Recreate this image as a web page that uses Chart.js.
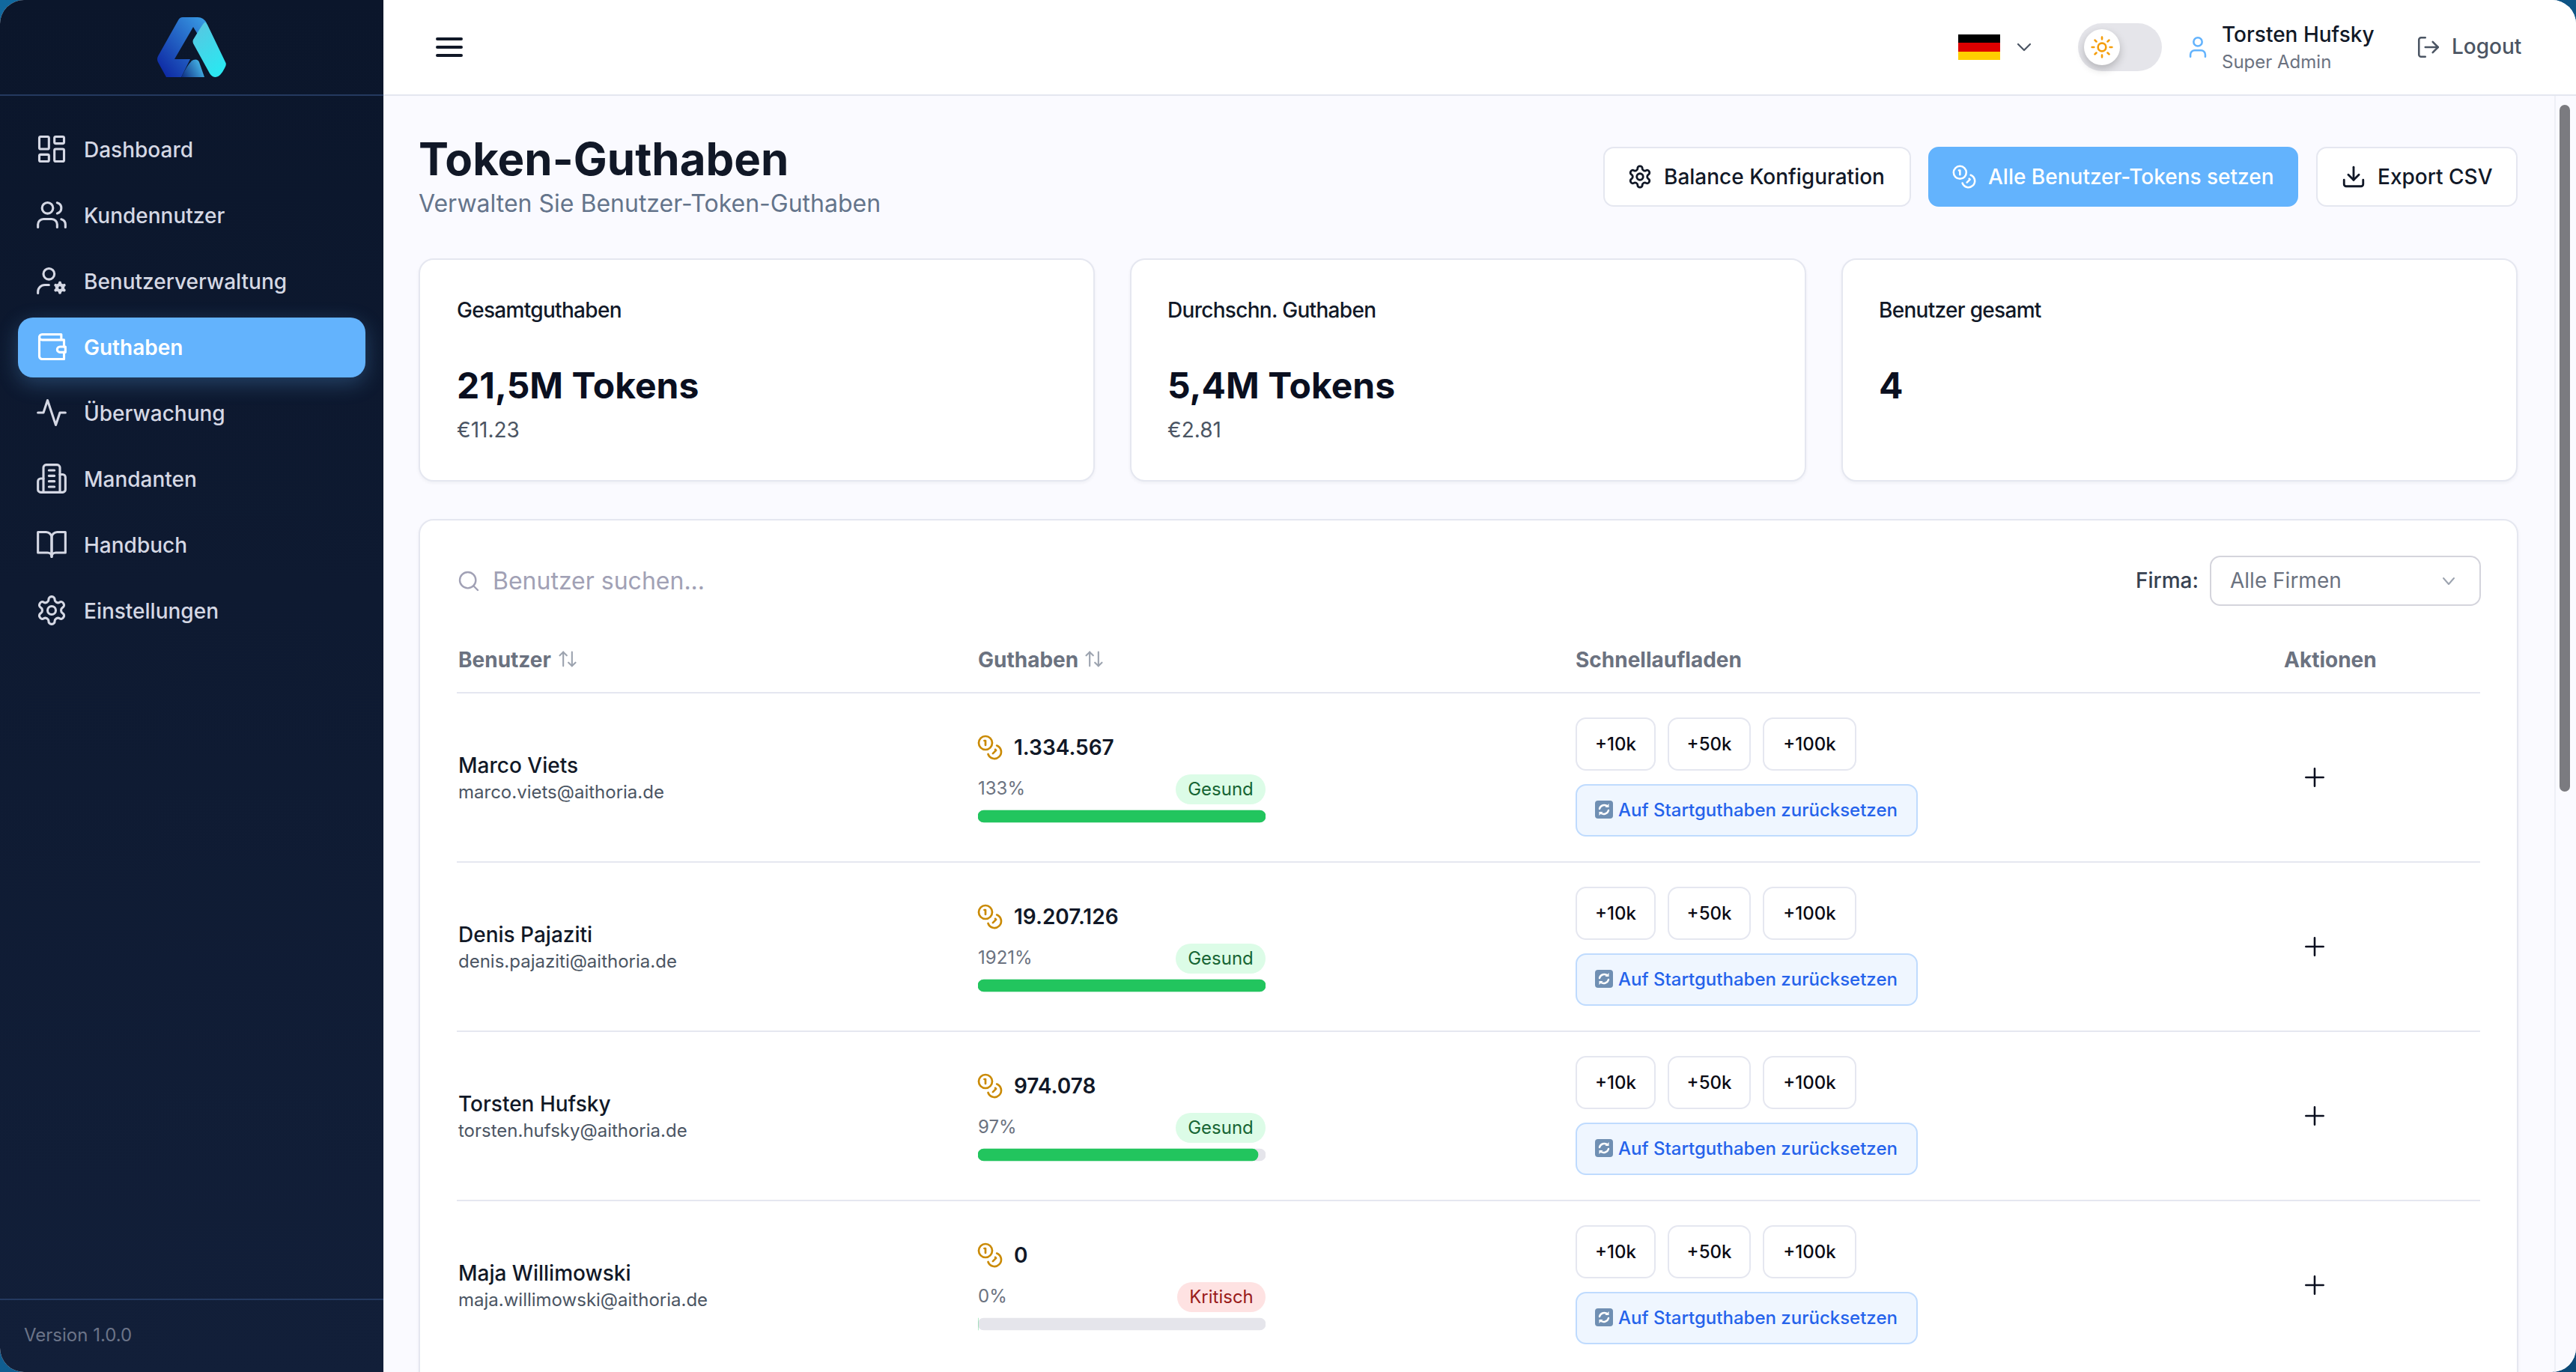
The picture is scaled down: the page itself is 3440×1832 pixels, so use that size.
<!DOCTYPE html>
<html lang="de">
<head>
<meta charset="utf-8">
<title>Token-Guthaben</title>
<script src="https://cdn.jsdelivr.net/npm/chart.js@4"></script>
<style>
  * { box-sizing: border-box; margin: 0; padding: 0; }
  html, body { width: 3440px; height: 1832px; overflow: hidden; }
  body { background: linear-gradient(135deg, #11689e 0%, #0d4a78 100%); font-family: Inter, "Noto Sans", sans-serif; color: #111827; }
  #app { position: absolute; inset: 0; background: #fafaff; border-radius: 32px; overflow: hidden; }
  .abs { position: absolute; }
  .t { position: absolute; white-space: nowrap; transform: translateY(-50%); line-height: 1.2; }
  svg { position: absolute; fill: none; stroke: currentColor; stroke-linecap: round; stroke-linejoin: round; }

  #sidebar { position: absolute; left: 0; top: 0; width: 512px; height: 1832px; background: linear-gradient(#0b162b, #121f39); }
  .rule { position: absolute; left: 0; width: 512px; height: 2px; background: #24395f; }
  #active { position: absolute; left: 24px; top: 424px; width: 464px; height: 80px; border-radius: 20px; background: #63b3fd; box-shadow: 0 8px 28px rgba(99,179,253,.28); }

  #header { position: absolute; left: 512px; top: 0; right: 0; height: 128px; background: #fff; border-bottom: 2px solid #e4e7f0; }
  #scroll { position: absolute; left: 3411px; top: 128px; width: 29px; bottom: 0; background: #fafaff; border-left: 2px solid #eeeff6; }
  #thumb { position: absolute; left: 3418px; top: 140px; width: 14px; height: 917px; border-radius: 7px; background: #7b7b80; }

  .btn { position: absolute; top: 196px; height: 80px; border-radius: 14px; background: #fff; border: 2px solid #e5e7f0; }
  .card { position: absolute; background: #fff; border: 2px solid #e5e7f0; border-radius: 20px; box-shadow: 0 2px 4px rgba(20,30,60,.05); }
  .line { position: absolute; left: 610px; width: 2702px; height: 2px; background: #e5e7f0; }
  .quick { position: absolute; height: 71px; border: 2px solid #e5e7f0; border-radius: 14px; background: #fff; font-size: 24px; font-weight: 500; color: #0a0a14; text-align: center; line-height: 67px; }
  .reset { position: absolute; left: 2104px; width: 457px; height: 70px; background: #eff6ff; border: 2px solid #bfdbfe; border-radius: 14px; }
  .badge { position: absolute; height: 40px; border-radius: 20px; font-size: 24px; line-height: 40px; text-align: center; }
  #bars { position: absolute; left: 1306px; top: 977px; }
</style>
</head>
<body>
<div id="app">
  <div id="sidebar">
    <svg style="left:210px;top:23px;stroke:none" width="92" height="80" viewBox="0 0 92 80">
      <defs>
        <linearGradient id="lgA" x1="0" y1="1" x2="1" y2="0"><stop offset="0" stop-color="#0a1f9e"/><stop offset="1" stop-color="#3a9fe6"/></linearGradient>
        <linearGradient id="lgB" x1="0" y1="1" x2="1" y2="0.6"><stop offset="0" stop-color="#0c2a80"/><stop offset="1" stop-color="#45b4e6"/></linearGradient>
        <linearGradient id="lgC" x1="0" y1="0" x2="0.5" y2="1"><stop offset="0" stop-color="#5bc4e0"/><stop offset="1" stop-color="#2ce6f0"/></linearGradient>
      </defs>
      <path fill="url(#lgA)" d="M34 0H54Q62 0 66 8L56 26L48 13L23 56H44L32 80H12L1 60Q-1 56 1 52L28 4Q30 0 34 0Z"/>
      <path fill="url(#lgB)" d="M32 80Q42 60 48 57Q54 55 56 60L63 80Z"/>
      <path fill="url(#lgC)" d="M63 7Q60 10 48 30Q47 32 48 35L70 75Q73 80 78 80Q84 80 90 68Q93 63 91 60L67 10Q65 6 63 7Z"/>
    </svg>
    <div class="rule" style="top:126px"></div>
    <div class="rule" style="top:1734px"></div>
    <div id="active"></div>
    <div id="nav"></div>
    <div class="t" style="left:32px;top:1783px;font-size:24px;color:#6b7488">Version 1.0.0</div>
  </div>

  <div id="header"></div>
  <svg style="left:582px;top:45px;color:#111827" width="36" height="36" viewBox="0 0 36 36" stroke-width="4"><path d="M2 7H34M2 18H34M2 29H34"/></svg>
  <div class="abs" style="left:2615px;top:46px;width:56px;height:34px;background:linear-gradient(#000 0 33.3%,#dd0000 33.3% 66.6%,#ffce00 66.6%)"></div>
  <svg style="left:2691px;top:51px;color:#4b5563" width="24" height="24" viewBox="0 0 24 24" stroke-width="2.2"><path d="m4 8 8 8 8-8"/></svg>
  <div class="abs" style="left:2775px;top:31px;width:112px;height:64px;border-radius:32px;background:#e5e5ea"></div>
  <div class="abs" style="left:2783px;top:39px;width:48px;height:48px;border-radius:50%;background:#fff;box-shadow:0 5px 12px rgba(0,0,0,.22)"></div>
  <svg style="left:2791px;top:47px;color:#f59e0b" width="32" height="32" viewBox="0 0 24 24" stroke-width="2"><circle cx="12" cy="12" r="4"/><path d="M12 2v2M12 20v2M4.93 4.93l1.41 1.41M17.66 17.66l1.41 1.41M2 12h2M20 12h2M6.34 17.66l-1.41 1.41M19.07 4.93l-1.41 1.41"/></svg>
  <svg style="left:2918px;top:46px;color:#63b3fd" width="34" height="34" viewBox="0 0 24 24" stroke-width="1.8"><path d="M19 21v-2a4 4 0 0 0-4-4H9a4 4 0 0 0-4 4v2"/><circle cx="12" cy="7" r="4"/></svg>
  <div class="t" style="left:2967px;top:47px;font-size:28px;font-weight:500">Torsten Hufsky</div>
  <div class="t" style="left:2967px;top:83px;font-size:24px;color:#6b7280">Super Admin</div>
  <svg style="left:3226px;top:46px;color:#4b5563" width="34" height="34" viewBox="0 0 24 24" stroke-width="1.8"><path d="M9 21H5a2 2 0 0 1-2-2V5a2 2 0 0 1 2-2h4"/><path d="m16 17 5-5-5-5"/><path d="M21 12H9"/></svg>
  <div class="t" style="left:3274px;top:63px;font-size:28px;font-weight:500;color:#4b5563">Logout</div>

  <div id="scroll"></div>
  <div id="thumb"></div>

  <div class="t" style="left:559px;top:212px;font-size:60px;font-weight:700">Token-Guthaben</div>
  <div class="t" style="left:559px;top:272px;font-size:32px;color:#64748b">Verwalten Sie Benutzer-Token-Guthaben</div>

  <div class="btn" style="left:2141px;width:411px"></div>
  <svg style="left:2173px;top:219px;color:#111827" width="34" height="34" viewBox="0 0 24 24" stroke-width="2"><path d="M12.22 2h-.44a2 2 0 0 0-2 2v.18a2 2 0 0 1-1 1.73l-.43.25a2 2 0 0 1-2 0l-.15-.08a2 2 0 0 0-2.73.73l-.22.38a2 2 0 0 0 .73 2.73l.15.1a2 2 0 0 1 1 1.72v.51a2 2 0 0 1-1 1.74l-.15.09a2 2 0 0 0-.73 2.73l.22.38a2 2 0 0 0 2.73.73l.15-.08a2 2 0 0 1 2 0l.43.25a2 2 0 0 1 1 1.73V20a2 2 0 0 0 2 2h.44a2 2 0 0 0 2-2v-.18a2 2 0 0 1 1-1.73l.43-.25a2 2 0 0 1 2 0l.15.08a2 2 0 0 0 2.73-.73l.22-.39a2 2 0 0 0-.73-2.73l-.15-.08a2 2 0 0 1-1-1.74v-.5a2 2 0 0 1 1-1.74l.15-.09a2 2 0 0 0 .73-2.73l-.22-.38a2 2 0 0 0-2.73-.73l-.15.08a2 2 0 0 1-2 0l-.43-.25a2 2 0 0 1-1-1.73V4a2 2 0 0 0-2-2z"/><circle cx="12" cy="12" r="3"/></svg>
  <div class="t" style="left:2222px;top:237px;font-size:28px;font-weight:500">Balance Konfiguration</div>
  <div class="btn" style="left:2575px;width:494px;background:#63b3fd;border-color:#63b3fd"></div>
  <svg style="left:2606px;top:219px;color:#fff" width="34" height="34" viewBox="0 0 24 24" stroke-width="1.8"><circle cx="8" cy="8" r="6"/><path d="M18.09 10.37A6 6 0 1 1 10.34 18"/><path d="M7 6h1v4"/><path d="m16.71 13.88.7.71-2.82 2.82"/></svg>
  <div class="t" style="left:2655px;top:237px;font-size:28px;font-weight:500;color:#fff">Alle Benutzer-Tokens setzen</div>
  <div class="btn" style="left:3093px;width:269px"></div>
  <svg style="left:3126px;top:219px;color:#111827" width="34" height="34" viewBox="0 0 24 24" stroke-width="2"><path d="M21 15v4a2 2 0 0 1-2 2H5a2 2 0 0 1-2-2v-4"/><path d="m7 10 5 5 5-5"/><path d="M12 15V3"/></svg>
  <div class="t" style="left:3175px;top:237px;font-size:28px;font-weight:500">Export CSV</div>

  <div id="cards"></div>

  <div class="card" style="left:559px;top:693px;width:2804px;height:1300px"></div>
  <svg style="left:610px;top:760px;color:#a1a1b5" width="32" height="32" viewBox="0 0 24 24" stroke-width="1.8"><circle cx="11" cy="11" r="8"/><path d="m21 21-4.3-4.3"/></svg>
  <div class="t" style="left:658px;top:776px;font-size:32px;color:#a1a1b5">Benutzer suchen...</div>
  <div class="t" style="left:2852px;top:776px;font-size:28px;font-weight:500;color:#374151">Firma:</div>
  <div class="abs" style="left:2951px;top:742px;width:362px;height:67px;border:2px solid #d4d4dc;border-radius:14px;background:#fff"></div>
  <div class="t" style="left:2978px;top:776px;font-size:28px;color:#6b7280">Alle Firmen</div>
  <svg style="left:3258px;top:764px;color:#9ca3af" width="24" height="24" viewBox="0 0 24 24" stroke-width="2"><path d="m5 8 7 8 7-8"/></svg>

  <div id="heads"></div>
  <div class="line" style="top:924px"></div>
  <div id="rows"></div>
  <canvas id="bars" width="384" height="904"></canvas>
</div>

<script>
const navLabels = ['Dashboard', 'Kundennutzer', 'Benutzerverwaltung', 'Guthaben', 'Überwachung', 'Mandanten', 'Handbuch', 'Einstellungen'];

const cardLabels = ['Gesamtguthaben', 'Durchschn. Guthaben', 'Benutzer gesamt'];
const cardValues = ['21,5M Tokens', '5,4M Tokens', '4'];
const cardSubs = ['€11.23', '€2.81', ''];

const tableHeads = ['Benutzer', 'Guthaben', 'Schnellaufladen', 'Aktionen'];
const users = ['Marco Viets', 'Denis Pajaziti', 'Torsten Hufsky', 'Maja Willimowski'];
const emails = ['marco.viets@aithoria.de', 'denis.pajaziti@aithoria.de', 'torsten.hufsky@aithoria.de', 'maja.willimowski@aithoria.de'];
const balances = ['1.334.567', '19.207.126', '974.078', '0'];
const percentLabels = ['133%', '1921%', '97%', '0%'];
const states = ['Gesund', 'Gesund', 'Gesund', 'Kritisch'];
const quickAmounts = ['+10k', '+50k', '+100k'];

// bar fill in percent of the track, the bars stop at the full track
const barFill = [100, 100, 97.4, 0];
const barTrack = [100, 100, 100, 100];

const navIcons = [
  '<rect x="3" y="3" width="7" height="9" rx="1"/><rect x="14" y="3" width="7" height="5" rx="1"/><rect x="14" y="12" width="7" height="9" rx="1"/><rect x="3" y="16" width="7" height="5" rx="1"/>',
  '<path d="M16 21v-2a4 4 0 0 0-4-4H6a4 4 0 0 0-4 4v2"/><circle cx="9" cy="7" r="4"/><path d="M22 21v-2a4 4 0 0 0-3-3.87"/><path d="M16 3.13a4 4 0 0 1 0 7.75"/>',
  '<circle cx="10" cy="7" r="4"/><path d="M2 21v-1a5 5 0 0 1 5-5h3"/><circle cx="18" cy="17" r="2.200" stroke-width="2.400"/><path d="M18 13.400v.6M18 20v.6M14.900 15.200l.5.300M20.600 18.500l.5.300M14.900 18.800l.5-.300M20.600 15.500l.5-.300" stroke-width="2.200"/>',
  '<path d="M21 12V7H5a2 2 0 0 1 0-4h14v4"/><path d="M3 5v14a2 2 0 0 0 2 2h16v-5"/><path d="M18 12a2 2 0 0 0 0 4h4v-4Z"/>',
  '<path d="M22 12h-4l-3 9L9 3l-3 9H2"/>',
  '<path d="M6 22V4a2 2 0 0 1 2-2h8a2 2 0 0 1 2 2v18Z"/><path d="M6 12H4a2 2 0 0 0-2 2v6a2 2 0 0 0 2 2h2"/><path d="M18 9h2a2 2 0 0 1 2 2v9a2 2 0 0 1-2 2h-2"/><path d="M10 6h4M10 10h4M10 14h4M10 18h4"/>',
  '<path d="M2 3h6a4 4 0 0 1 4 4v14a3 3 0 0 0-3-3H2z"/><path d="M22 3h-6a4 4 0 0 0-4 4v14a3 3 0 0 1 3-3h7z"/>',
  '<path d="M12.22 2h-.44a2 2 0 0 0-2 2v.18a2 2 0 0 1-1 1.73l-.43.25a2 2 0 0 1-2 0l-.15-.08a2 2 0 0 0-2.73.73l-.22.38a2 2 0 0 0 .73 2.73l.15.1a2 2 0 0 1 1 1.72v.51a2 2 0 0 1-1 1.74l-.15.09a2 2 0 0 0-.73 2.73l.22.38a2 2 0 0 0 2.73.73l.15-.08a2 2 0 0 1 2 0l.43.25a2 2 0 0 1 1 1.73V20a2 2 0 0 0 2 2h.44a2 2 0 0 0 2-2v-.18a2 2 0 0 1 1-1.73l.43-.25a2 2 0 0 1 2 0l.15.08a2 2 0 0 0 2.73-.73l.22-.39a2 2 0 0 0-.73-2.73l-.15-.08a2 2 0 0 1-1-1.74v-.5a2 2 0 0 1 1-1.74l.15-.09a2 2 0 0 0 .73-2.73l-.22-.38a2 2 0 0 0-2.73-.73l-.15.08a2 2 0 0 1-2 0l-.43-.25a2 2 0 0 1-1-1.73V4a2 2 0 0 0-2-2z"/><circle cx="12" cy="12" r="3"/>'
];

const COINS = '<circle cx="8" cy="8" r="6"/><path d="M18.09 10.370A6 6 0 1 1 10.340 18"/><path d="M7 6h1v4"/><path d="m16.710 13.880.7.710-2.820 2.820"/>';
const SORT = '<path d="m21 16-4 4-4-4"/><path d="M17 20V4"/><path d="m3 8 4-4 4 4"/><path d="M7 4v16"/>';

function renderNav() {
  document.getElementById('nav').innerHTML = navLabels.map((label, i) => {
    const y = 199 + i * 88;
    const active = label === 'Guthaben';
    const color = active ? '#fff' : '#d5d8e4';
    return `
      <svg style="left:47px;top:${y - 22}px;color:${color}" width="44" height="44" viewBox="0 0 24 24" stroke-width="1.7">${navIcons[i]}</svg>
      <div class="t" style="left:112px;top:${y + 2}px;font-size:28px;font-weight:${active ? 600 : 500};color:${color}">${label}</div>`;
  }).join('');
}

function renderCards() {
  const lefts = [559, 1509, 2459];
  const textLefts = [610, 1559, 2509];
  document.getElementById('cards').innerHTML = cardLabels.map((label, i) => `
    <div class="card" style="left:${lefts[i]}px;top:345px;width:903px;height:298px"></div>
    <div class="t" style="left:${textLefts[i]}px;top:415px;font-size:28px;font-weight:500;letter-spacing:-0.7px">${label}</div>
    <div class="t" style="left:${textLefts[i]}px;top:515px;font-size:48px;font-weight:700;color:#0a0f1f">${cardValues[i]}</div>
    <div class="t" style="left:${textLefts[i]}px;top:575px;font-size:28px;color:#4b5563">${cardSubs[i]}</div>`).join('');
}

function renderHeads() {
  const lefts = [612, 1306, 2104, 3050];
  const sortLefts = [744, 1447];
  document.getElementById('heads').innerHTML = tableHeads.map((head, i) => `
    <div class="t" style="left:${lefts[i]}px;top:882px;font-size:28px;font-weight:700;color:#6b7280">${head}</div>
    ${i < 2 ? `<svg style="left:${sortLefts[i]}px;top:866px;color:#9ca3af" width="28" height="28" viewBox="0 0 24 24" stroke-width="1.8">${SORT}</svg>` : ''}`).join('');
}

function renderRows() {
  const quickLefts = [2104, 2227, 2354];
  const quickWidths = [107, 111, 125];
  document.getElementById('rows').innerHTML = users.map((name, i) => {
    const off = i * 226;
    const ok = states[i] === 'Gesund';
    const badgeW = ok ? 120 : 118;
    return `
      <div class="t" style="left:612px;top:${1023 + off}px;font-size:28px;font-weight:500">${name}</div>
      <div class="t" style="left:612px;top:${1058 + off}px;font-size:24px;color:#4b5563">${emails[i]}</div>
      <svg style="left:1304px;top:${980 + off}px;color:#ca8a04" width="36" height="36" viewBox="0 0 24 24" stroke-width="1.8">${COINS}</svg>
      <div class="t" style="left:1354px;top:${999 + off}px;font-size:28px;font-weight:600">${balances[i]}</div>
      <div class="t" style="left:1306px;top:${1053 + off}px;font-size:24px;color:#6b7280">${percentLabels[i]}</div>
      <div class="badge" style="left:${1690 - badgeW}px;top:${1034 + off}px;width:${badgeW}px;background:${ok ? '#dcfce7' : '#fee2e2'};color:${ok ? '#166534' : '#991b1b'}">${states[i]}</div>
      ${quickAmounts.map((amount, q) => `<div class="quick" style="left:${quickLefts[q]}px;top:${958 + off}px;width:${quickWidths[q]}px">${amount}</div>`).join('')}
      <div class="reset" style="top:${1047 + off}px"></div>
      <svg style="left:2130px;top:${1069 + off}px;stroke:none" width="24" height="24" viewBox="0 0 24 24"><rect width="24" height="24" rx="4" fill="#6f8fb3"/><path d="M6 11a6.500 6.500 0 0 1 11-3M18 13a6.500 6.500 0 0 1-11 3" fill="none" stroke="#fff" stroke-width="2.400"/><path d="M18.500 4v5h-5zM5.500 20v-5h5z" fill="#fff"/></svg>
      <div class="t" style="left:2161px;top:${1082 + off}px;font-size:24px;font-weight:500;color:#2563eb">Auf Startguthaben zurücksetzen</div>
      <svg style="left:3077px;top:${1024 + off}px;color:#0a0f1f" width="28" height="28" viewBox="0 0 24 24" stroke-width="2.200"><path d="M2 12h20M12 2v20"/></svg>
      ${i < users.length - 1 ? `<div class="line" style="top:${1150 + off}px"></div>` : ''}`;
  }).join('');
}

function renderBars() {
  new Chart(document.getElementById('bars'), {
    type: 'bar',
    data: {
      labels: users,
      datasets: [
        { data: barFill, backgroundColor: '#22c55e', grouped: false, barThickness: 16, borderRadius: 8, borderSkipped: false },
        { data: barTrack, backgroundColor: '#e5e5eb', grouped: false, barThickness: 16, borderRadius: 8, borderSkipped: false }
      ]
    },
    options: {
      indexAxis: 'y',
      responsive: false,
      animation: false,
      devicePixelRatio: 1,
      layout: { padding: 0 },
      scales: {
        x: { display: false, min: 0, max: 100 },
        y: { display: false }
      },
      plugins: { legend: { display: false }, tooltip: { enabled: false } }
    }
  });
}

renderNav();
renderCards();
renderHeads();
renderRows();
renderBars();
</script>
</body>
</html>
